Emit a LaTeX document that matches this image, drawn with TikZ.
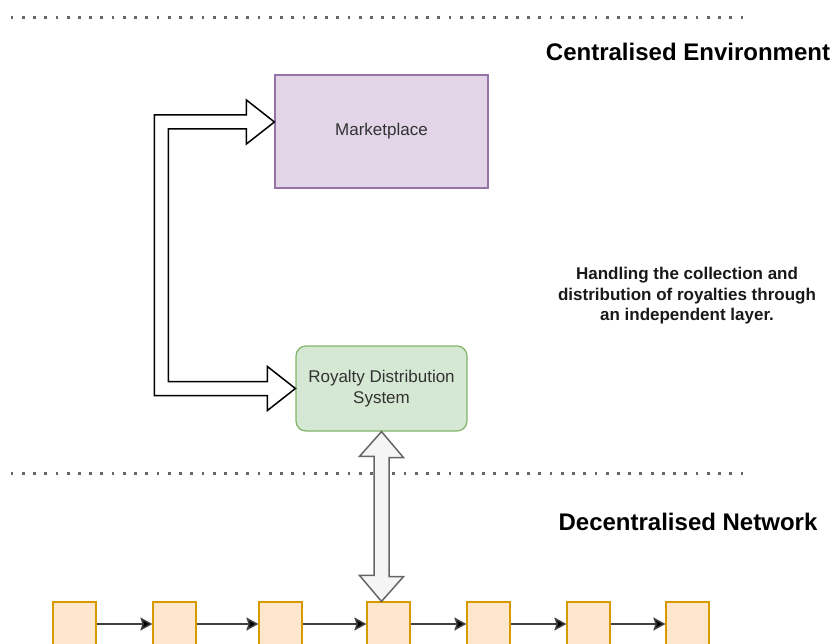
\documentclass[tikz,border=0pt]{standalone}
\usepackage{fontspec}
\setmainfont{Liberation Sans}
\usetikzlibrary{calc,arrows.meta}
\definecolor{mktfill}{HTML}{E1D5E7}
\definecolor{mktline}{HTML}{9673A6}
\definecolor{rdsfill}{HTML}{D5E8D4}
\definecolor{rdsline}{HTML}{82B366}
\definecolor{blkfill}{HTML}{FFE6CC}
\definecolor{blkline}{HTML}{D79B00}
\definecolor{flexfill}{HTML}{F5F5F5}
\definecolor{flexline}{HTML}{666666}
\definecolor{txt}{HTML}{333333}
\begin{document}
\begin{tikzpicture}[x=1pt, y=-1pt, thick,
		mktbox/.style={draw=mktline, fill=mktfill, line width=1.2pt, minimum width=213pt, minimum height=113pt, text=txt, font=\fontsize{17}{20.4}\selectfont},
		rdsbox/.style={draw=rdsline, fill=rdsfill, line width=1.2pt, rounded corners=10pt, minimum width=171pt, minimum height=85pt, text=txt, align=center, font=\fontsize{17}{20.4}\selectfont},
		blk/.style={draw=blkline, fill=blkfill, line width=1.2pt, minimum width=43pt, minimum height=44pt},
		title/.style={font=\fontsize{24}{28}\selectfont\bfseries},
		note/.style={align=center, text=black!90, font=\fontsize{17}{20.4}\selectfont\bfseries},
		sep/.style={line width=2.8pt, dash pattern=on 2.8pt off 8.43pt, draw=black!60},
		flex/.style={draw=black, fill=white, line width=1.5pt, line join=miter},
		updown/.style={draw=flexline, fill=flexfill, line width=1.5pt, line join=miter},
		link/.style={draw=black!75, line width=1.5pt, -{Stealth[length=12pt, width=13pt, inset=2pt, fill=black]}}]
		\useasboundingbox (0,0) rectangle (834,644);
		\clip (0,0) rectangle (834,644);
		%separators
		\draw[sep] (10.6,17.5) -- (743.5,17.5);
		\draw[sep] (10.6,473.5) -- (743.5,473.5);
		\node[title] (cent) at (688,52) {Centralised Environment};
		\node[title] (dece) at (688,522) {Decentralised Network};
		\node[note] (desc) at (687,296) {Handling the collection and\\distribution of royalties through\\an independent layer.};
		%centralised side
		\node[mktbox] (mkt) at (381.5,131.5) {Marketplace};
		\node[rdsbox] (rds) at (381.5,388.5) {Royalty Distribution\\System};
		\coordinate (t1) at ($(mkt.west)+(0,-9.5)$);
		\coordinate (t2) at (rds.west);
		\draw[flex] (t1) -- ++(-28,-22) -- ++(0,15) -- ++(-92,0) -- ++(0,280.5) -- ++(113,0) -- ++(0,15)
			-- (t2) -- ++(-28,-22) -- ++(0,15) -- ++(-99,0) -- ++(0,-252.5) -- ++(78,0) -- ++(0,15) -- cycle;
		%chain
		\foreach \x [count=\i] in {53,153,259,367,467,567,666}{
			\node[blk] (b\i) at (\x+21.5,624) {};
		}
		\foreach \i [remember=\i as \j (initially 1)] in {2,...,7}
			\draw[link] (b\j.east) -- (b\i.west);
		\coordinate (t3) at (rds.south);
		\coordinate (t4) at (rds.south |- b4.north);
		\draw[updown] (t3) -- ++(22,26) -- ++(-14.5,0) -- ++(0,119) -- ++(14.5,0)
			-- (t4) -- ++(-22,-26) -- ++(14.5,0) -- ++(0,-119) -- ++(-14.5,0) -- cycle;
	\end{tikzpicture}
\end{document}
